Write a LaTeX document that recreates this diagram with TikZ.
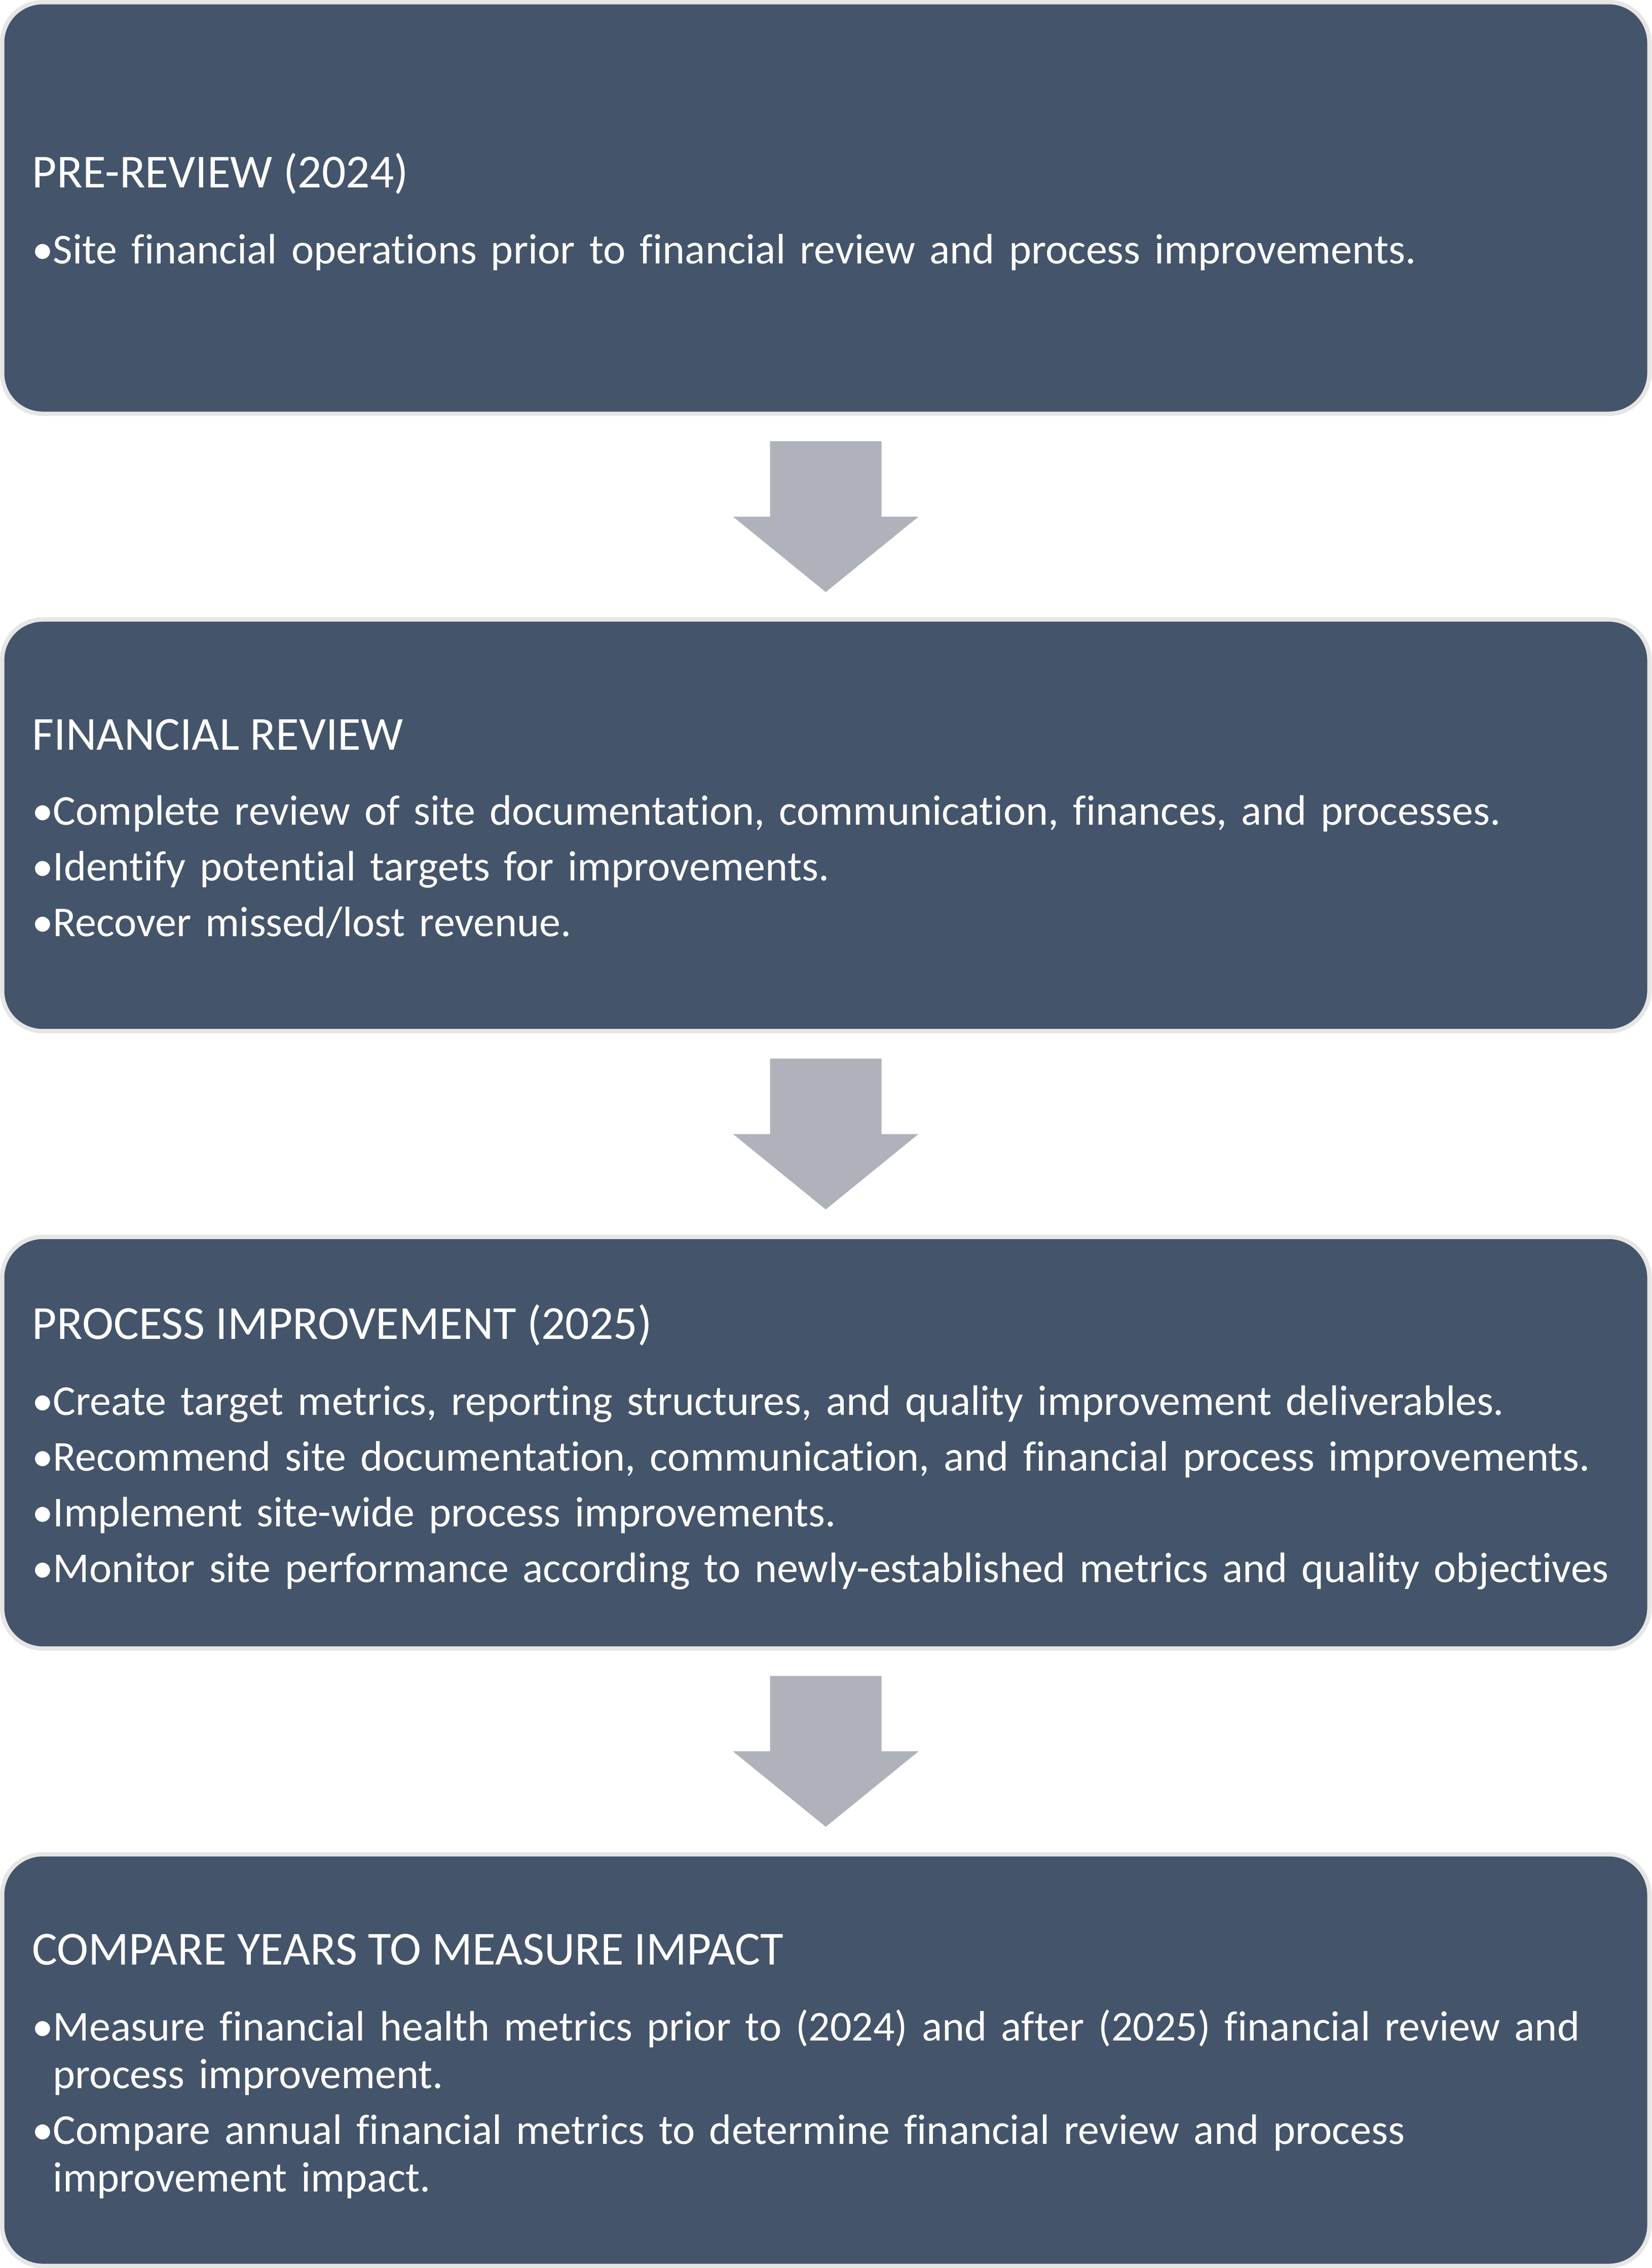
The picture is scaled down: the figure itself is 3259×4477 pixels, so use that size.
\documentclass[tikz,border=0pt]{standalone}
\usepackage{fontspec}
\setmainfont{Carlito}[Ligatures=NoCommon]
\usetikzlibrary{calc}
\definecolor{boxfill}{HTML}{44546A}
\definecolor{boxline}{HTML}{E7E6E6}
\definecolor{arrowgray}{HTML}{AFB2BA}
\newlength\bul
\setlength\bul{10.25pt}
\newcommand\bitem{\makebox[\bul][l]{\textbullet}}
\newcommand\bcont{\hspace*{\bul}}
\begin{document}
\begin{tikzpicture}[x=0.25pt, y=-0.25pt,
	stepbox/.style={rectangle, rounded corners=20pt, fill=boxfill, draw=boxline, line width=2.125pt,
		minimum width=812.625pt, minimum height=203.125pt, inner sep=0pt},
	title/.style={anchor=base west, inner sep=0pt, text=white, font=\fontsize{23.4pt}{28pt}\selectfont},
	body/.style={anchor=base west, inner sep=0pt, text=white, text width=795pt, align=left,
		font=\fontsize{21pt}{23.5pt}\selectfont}]
	\fill[white] (0,0) rectangle (3259,4477);
	\useasboundingbox (0,0) rectangle (3259,4477);
	
	%boxes
	\foreach \i/\y in {1/410.5, 2/1629.17, 3/2847.83, 4/4066.5}{
		\node (b\i) at (1629.5, \y) [stepbox]{};
	}
	
	%arrows
	\foreach \a/\b in {b1/b2, b2/b3, b3/b4}{
		\fill[arrowgray] ($(\a.south)+(-110,50)$) -- ($(\a.south)+(110,50)$)
			-- ($(\a.south)!.5!(\b.north)+(110,0)$) -- ($(\a.south)!.5!(\b.north)+(183,0)$)
			-- ($(\b.north)+(0,-50)$)
			-- ($(\a.south)!.5!(\b.north)+(-183,0)$) -- ($(\a.south)!.5!(\b.north)+(-110,0)$) -- cycle;
	}
	
	%texts
	\node (t1) at (63, 370) [title]{PRE-REVIEW (2024)};
	\node (l1) at (63, 520) [body]{\bitem Site financial operations prior to financial review and process improvements.};
	
	\node (t2) at (63, 1480) [title]{FINANCIAL REVIEW};
	\node (l2) at (63, 1628) [body]{\bitem Complete review of site documentation, communication, finances, and processes.\\[4pt]
		\bitem Identify potential targets for improvements.\\[4pt]
		\bitem Recover missed/lost revenue.};
	
	\node (t3) at (63, 2643) [title]{PROCESS IMPROVEMENT (2025)};
	\node (l3) at (63, 2793) [body]{\bitem Create target metrics, reporting structures, and quality improvement deliverables.\\[4pt]
		\bitem Recommend site documentation, communication, and financial process improvements.\\[4pt]
		\bitem Implement site-wide process improvements.\\[4pt]
		\bitem Monitor site performance according to newly-established metrics and quality objectives};
	
	\node (t4) at (63, 3878) [title]{COMPARE YEARS TO MEASURE IMPACT};
	\node (l4) at (63, 4028) [body]{\bitem Measure financial health metrics prior to (2024) and after (2025) financial review and\\
		\bcont process improvement.\\[4pt]
		\bitem Compare annual financial metrics to determine financial review and process\\
		\bcont improvement impact.};
\end{tikzpicture}
\end{document}
